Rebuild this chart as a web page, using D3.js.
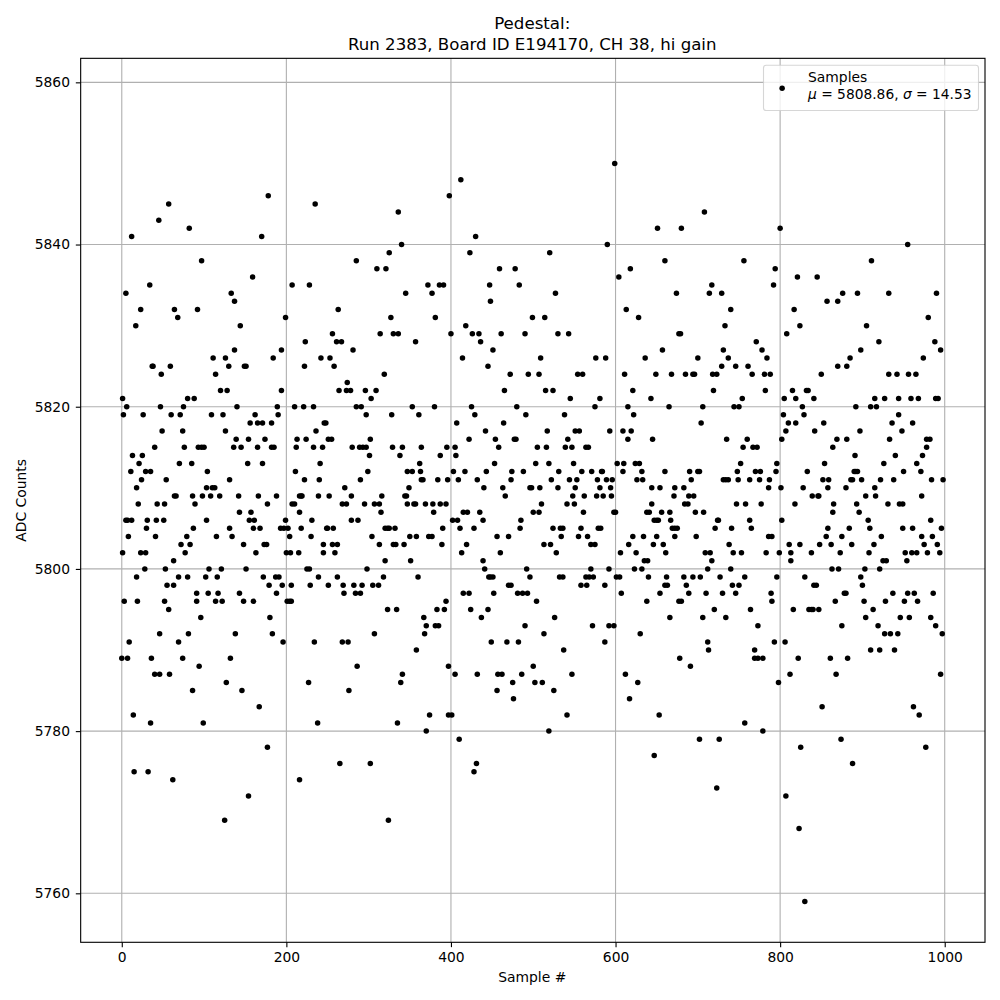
<!DOCTYPE html>
<html>
<head>
<meta charset="utf-8">
<script src="https://cdnjs.cloudflare.com/ajax/libs/d3/7.8.5/d3.min.js"></script>
<style>
html,body{margin:0;padding:0;background:#fff;}
svg{display:block;}
text{font-family:"DejaVu Sans",sans-serif;fill:#000;}
</style>
</head>
<body>
<div id="chart"></div>
<script>
const titleLines = ["Pedestal:", "Run 2383, Board ID E194170, CH 38, hi gain"];
const xLabel = "Sample #";
const yLabel = "ADC Counts";
const xTicks = [0, 200, 400, 600, 800, 1000];
const yTicks = [5760, 5780, 5800, 5820, 5840, 5860];
const legendName = "Samples";
const legendMu = "5808.86";
const legendSigma = "14.53";

// Each level is an ADC count; the list at the same position holds the sample numbers read at that count.
const adcLevels = [5850,5848,5846,5845,5844,5843,5842,5841,5840,5839,5838,5837,5836,5835,5834,5833,5832,5831,5830,5829,5828,5827,5826,5825,5824,5823,5822,5821,5820,5819,5818,5817,5816,5815,5814,5813,5812,5811,5810,5809,5808,5807,5806,5805,5804,5803,5802,5801,5800,5799,5798,5797,5796,5795,5794,5793,5792,5791,5790,5789,5788,5787,5786,5785,5784,5783,5782,5781,5780,5779,5778,5777,5776,5775,5774,5773,5772,5769,5768,5759];
const samplesAtLevel = [
[599],
[412],
[178,398],
[57,235],
[336,708],
[45],
[82,651,680,800],
[12,170,430],
[340,590,955],
[325,423,520],
[97,285,660,756,911],
[310,321,459,478,618,794],
[159,604,821,845],
[34,207,228,372,386,391,447,483,717,792],
[5,133,345,377,527,674,714,729,876,894,932,990],
[137,448,857,870],
[23,64,92,263,613,740,817],
[68,199,327,381,499,514,628,980],
[17,144,418,733,824,905],
[256,314,330,336,400,426,434,461,490,530,543,677,679,808],
[223,261,267,357,436,771,920,988],
[137,194,281,451,657,731,778,898,995],
[111,126,184,242,253,414,509,576,588,636,700,737,784,885,974],
[37,38,59,130,149,151,222,258,445,729,746,761,870,881],
[48,114,319,472,494,507,554,560,611,649,668,685,694,696,718,723,766,781,788,850,932,942,956,965],
[274],
[120,128,194,264,273,278,296,309,465,515,524,621,719,782,815,832,834],
[1,80,88,303,545,581,643,754,805,819,841,915,927,944,959,968,989,992],
[6,47,75,140,189,210,221,233,285,291,353,380,425,480,575,615,665,706,744,750,827,892,910,917],
[2,26,60,71,109,123,162,190,297,328,361,429,491,538,622,804,829,944],
[156,165,171,182,246,248,407,464,704,810,819,853,936,961],
[49,74,126,236,442,517,551,556,593,609,619,807,842,897,948],
[139,154,174,213,224,251,255,302,422,454,477,479,542,615,645,735,760,802,869,881,933,978,982],
[40,76,93,97,100,136,145,165,182,185,212,233,244,280,289,293,297,329,341,364,395,405,458,505,516,539,547,564,567,755,767,772,864,978],
[13,25,301,338,387,406,891,940,973],
[21,70,85,153,171,241,362,453,503,519,549,602,610,624,629,752,796,854,926,966],
[11,29,35,104,211,299,347,353,363,403,417,443,474,488,531,559,571,583,584,609,632,660,690,700,702,748,770,776,795,833,890,892,894,950,971],
[24,54,131,222,240,290,364,366,384,396,409,432,473,522,544,553,578,589,596,626,633,692,731,734,737,749,763,775,787,852,859,886,888,899,922,938,984,998],
[18,103,110,113,271,349,440,463,496,498,508,530,551,581,594,644,654,672,683,786,801,828,858,880,915],
[64,66,86,98,108,119,142,166,188,216,218,219,239,252,279,316,344,346,466,548,562,577,585,595,671,689,695,839,846,847,904,916,972],
[20,43,52,89,177,207,210,268,273,295,307,313,347,355,357,369,378,387,394,510,541,550,644,684,688,747,758,777,818,865,893,931,945,949],
[143,157,216,315,379,415,420,435,500,507,561,598,600,638,641,656,666,697,707,864,896],
[5,7,12,31,42,51,103,155,161,199,231,279,287,402,408,439,485,647,650,652,667,724,725,763,802,907,983],
[30,87,131,160,168,193,197,202,218,249,250,257,320,323,325,332,390,411,428,484,524,533,536,558,579,582,669,672,675,721,741,765,858,884,909,949,961,996],
[8,41,79,115,134,204,230,304,350,358,373,377,456,470,534,555,566,621,634,650,672,698,786,790,856,875,923,972,985],
[72,83,148,173,176,245,256,262,313,330,333,343,389,419,513,521,570,575,616,646,658,738,811,824,848,862,887,914,975,991],
[1,23,29,77,163,200,205,215,245,259,413,460,528,606,625,661,709,715,743,753,783,799,813,838,873,908,952,960,966,979,994],
[63,320,351,439,635,639,717,813,925,929,954],
[28,53,106,121,151,225,228,298,441,492,570,592,623,632,712,740,863,871,903,921],
[18,69,80,102,116,172,187,191,239,262,318,360,446,448,451,496,532,536,564,568,573,601,605,640,662,683,694,703,727,757,796,830,898],
[55,63,179,195,206,229,251,269,282,292,305,312,470,473,558,565,587,660,663,686,742,750,841,844,900],
[91,105,117,143,188,270,284,290,415,422,452,481,487,493,607,654,689,710,730,746,789,878,880,937,955,963,986],
[3,19,52,91,114,122,148,160,201,204,206,394,504,638,677,680,790,867,902,928,951,967],
[57,323,334,383,392,424,445,720,764,816,835,838,840,847,913],
[96,180,367,437,526,666,706,734,904,946,957,983],
[370,381,385,490,572,592,598,773,875,919,989],
[46,81,138,183,307,368,513,630,927,934,943,997],
[9,69,196,234,268,275,449,468,482,587,712,793,806],
[358,537,713,769,910,921,939],
[0,7,36,74,132,678,769,773,779,822,861,882],
[94,286,397,500,691],
[40,46,58,341,405,432,457,462,486,547,612,812,868,995],
[127,227,339,475,502,511,627,798],
[86,146,276,456,525],
[476,617],
[167,851,962],
[14,374,397,401,541,653,969],
[35,99,238,335,757],
[370,519,779],
[410,702,726,874],
[177,825,977],
[647],
[265,302,431,888],
[15,32,428],
[62,216],
[723],
[154,807],
[125,324],
[823],
[830]
];

const samples = adcLevels.flatMap((adc, i) => samplesAtLevel[i].map(sample => ({sample, adc})));

const W = 1000, H = 1000;
const plot = {left: 80.67, right: 985, top: 58.33, bottom: 942.3};
const FS = 13.89;

const x = d3.scaleLinear().domain([-49.95, 1048.95]).range([plot.left, plot.right]);
const y = d3.scaleLinear().domain([5753.96, 5862.96]).range([plot.bottom, plot.top]);

const svg = d3.select("#chart").append("svg").attr("width", W).attr("height", H);
svg.append("rect").attr("width", W).attr("height", H).attr("fill", "#fff");

// grid
const grid = svg.append("g").attr("stroke", "#b0b0b0").attr("stroke-width", 1.11);
grid.selectAll("line.gx").data(xTicks).join("line")
  .attr("x1", d => x(d)).attr("x2", d => x(d)).attr("y1", plot.top).attr("y2", plot.bottom);
grid.selectAll("line.gy").data(yTicks).join("line")
  .attr("y1", d => y(d)).attr("y2", d => y(d)).attr("x1", plot.left).attr("x2", plot.right);

// points
svg.append("g").selectAll("circle").data(samples).join("circle")
  .attr("cx", d => x(d.sample)).attr("cy", d => y(d.adc)).attr("r", 2.75).attr("fill", "#000");

// axes
const gx = svg.append("g").attr("transform", `translate(0,${plot.bottom})`)
  .call(d3.axisBottom(x).tickValues(xTicks).tickFormat(d3.format("d")).tickSize(4.86).tickPadding(4.8));
const gy = svg.append("g").attr("transform", `translate(${plot.left},0)`)
  .call(d3.axisLeft(y).tickValues(yTicks).tickFormat(d3.format("d")).tickSize(4.86).tickPadding(5.8));
[gx, gy].forEach(g => {
  g.select(".domain").remove();
  g.selectAll(".tick line").attr("stroke", "#000").attr("stroke-width", 1.11);
  g.selectAll(".tick text").attr("font-size", FS).attr("font-family", '"DejaVu Sans"').attr("fill", "#000");
});

// spines
svg.append("rect").attr("x", plot.left).attr("y", plot.top)
  .attr("width", plot.right - plot.left).attr("height", plot.bottom - plot.top)
  .attr("fill", "none").attr("stroke", "#000").attr("stroke-width", 1.11);

// title and labels
const cx = (plot.left + plot.right) / 2;
svg.append("text").attr("x", cx - 0.6).attr("y", 29).attr("text-anchor", "middle").attr("font-size", 16.67).text(titleLines[0]);
svg.append("text").attr("x", cx - 0.6).attr("y", 50).attr("text-anchor", "middle").attr("font-size", 16.6).text(titleLines[1]);
svg.append("text").attr("x", cx - 0.6).attr("y", 982).attr("text-anchor", "middle").attr("font-size", FS).text(xLabel);
svg.append("text").attr("transform", `translate(25.5,${(plot.top + plot.bottom) / 2}) rotate(-90)`)
  .attr("text-anchor", "middle").attr("font-size", FS).text(yLabel);

// legend
const lg = svg.append("g");
lg.append("rect").attr("x", 763.5).attr("y", 65.2).attr("width", 215).attr("height", 45.3).attr("rx", 2.8)
  .attr("fill", "#fff").attr("fill-opacity", 0.8).attr("stroke", "#ccc").attr("stroke-opacity", 0.8).attr("stroke-width", 1.11);
lg.append("circle").attr("cx", x(800) + 2).attr("cy", 88.3).attr("r", 2.75).attr("fill", "#000");
lg.append("text").attr("x", 808).attr("y", 82).attr("font-size", FS).text(legendName);
const t2 = lg.append("text").attr("x", 808).attr("y", 98.5).attr("font-size", 13.8);
t2.append("tspan").attr("font-style", "italic").text("μ");
t2.append("tspan").text(` = ${legendMu}, `);
t2.append("tspan").attr("font-style", "italic").text("σ");
t2.append("tspan").text(` = ${legendSigma}`);
</script>
</body>
</html>
